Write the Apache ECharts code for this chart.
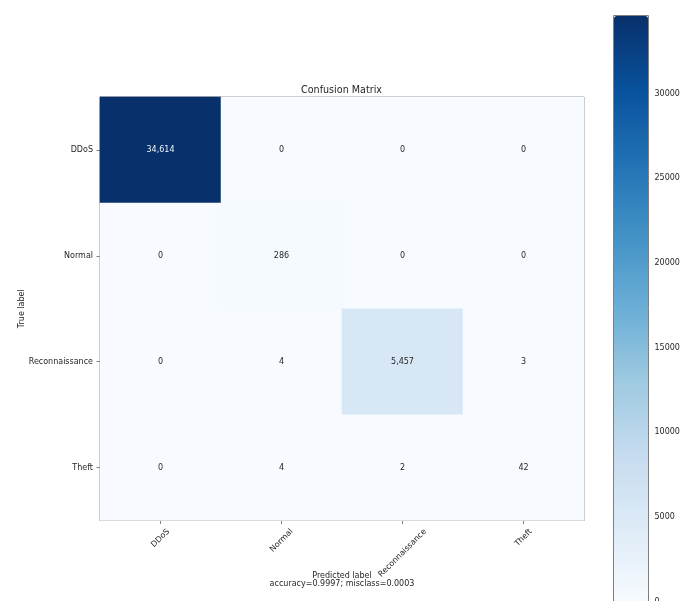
<!DOCTYPE html>
<html>
<head>
<meta charset="utf-8">
<script src="https://cdn.jsdelivr.net/npm/echarts@6/dist/echarts.min.js"></script>
<style>
  html, body { margin: 0; padding: 0; background: #ffffff; overflow: hidden; }
  #chart { width: 692px; height: 601px; }
</style>
</head>
<body>
<div id="chart"></div>
<script>
// Class labels (rows = true label, columns = predicted label)
const categories = ['DDoS', 'Normal', 'Reconnaissance', 'Theft'];

// Confusion-matrix counts, one array per true class
const rowDDoS = [34614, 0, 0, 0];
const rowNormal = [0, 286, 0, 0];
const rowReconnaissance = [0, 4, 5457, 3];
const rowTheft = [0, 4, 2, 42];

// Colour-bar tick values
const colorbarTicks = [0, 5000, 10000, 15000, 20000, 25000, 30000];

const titleText = 'Confusion Matrix';
const xAxisTitle = 'Predicted label';
const yAxisTitle = 'True label';
const summaryText = 'accuracy=0.9997; misclass=0.0003';

// matplotlib "Blues" colormap stops
const blues = ['#f7fbff', '#deebf7', '#c6dbef', '#9ecae1', '#6baed6',
               '#4292c6', '#2171b5', '#08519c', '#08306b'];

const FONT = '"DejaVu Sans", "Liberation Sans", sans-serif';
const TEXT = '#262626';
const SPINE = '#808080';

const rows = [rowDDoS, rowNormal, rowReconnaissance, rowTheft];
const maxValue = Math.max(...rows.flat());
const threshold = maxValue / 2;

const cells = [];
rows.forEach((row, r) => {
  row.forEach((v, c) => {
    cells.push({
      value: [c, r, v],
      label: { color: v > threshold ? '#eef3fb' : TEXT }
    });
  });
});

// Rotated x labels are centred on their tick (bounding box hangs below the axis);
// per-label padding shifts each rotated label straight down by half its extent.
const measure = document.createElement('canvas').getContext('2d');
measure.font = '8px ' + FONT;
const xRich = {};
categories.forEach((name, i) => {
  const w = measure.measureText(name).width;
  const p = (w + 8) / 2;
  xRich['c' + i] = { padding: [p, p, 0, 0], fontSize: 8, fontFamily: FONT, color: TEXT };
});

const chart = echarts.init(document.getElementById('chart'), null, { renderer: 'canvas' });

chart.setOption({
  backgroundColor: '#ffffff',
  animation: false,
  title: {
    text: titleText,
    left: 301,
    top: 85,
    padding: 0,
    textStyle: { fontFamily: FONT, fontSize: 9.6, fontWeight: 'normal', color: TEXT }
  },
  grid: [
    { left: 100, top: 97, width: 484, height: 423.5, outerBoundsMode: 'none', containLabel: false,
      show: true, borderColor: SPINE, borderWidth: 1, backgroundColor: 'transparent' },
    { left: 613.5, top: 15.5, width: 35, height: 586, outerBoundsMode: 'none', containLabel: false,
      show: true, borderColor: SPINE, borderWidth: 1, backgroundColor: 'transparent' }
  ],
  xAxis: [
    {
      type: 'category', gridIndex: 0, data: categories, position: 'bottom',
      name: xAxisTitle + '\n' + summaryText,
      nameLocation: 'middle', nameGap: 51.5, nameMoveOverlap: false,
      nameTextStyle: { fontFamily: FONT, fontSize: 8, color: TEXT, lineHeight: 8 },
      axisLine: { show: true, lineStyle: { color: SPINE, width: 1 } },
      axisTick: { show: true, alignWithLabel: true, length: 3.5, lineStyle: { color: SPINE } },
      axisLabel: {
        interval: 0, rotate: 45, margin: 7, align: 'center', verticalAlign: 'middle',
        hideOverlap: false,
        fontFamily: FONT, fontSize: 8, color: TEXT,
        formatter: (v, i) => '{c' + i + '|' + v + '}',
        rich: xRich
      },
      splitLine: { show: false }
    },
    {
      type: 'value', gridIndex: 1, show: false, min: 0, max: 1
    }
  ],
  yAxis: [
    {
      type: 'category', gridIndex: 0, data: categories, inverse: true,
      name: yAxisTitle, nameLocation: 'middle', nameGap: 74, nameMoveOverlap: false,
      nameTextStyle: { fontFamily: FONT, fontSize: 8, color: TEXT },
      axisLine: { show: true, lineStyle: { color: SPINE, width: 1 } },
      axisTick: { show: true, alignWithLabel: true, length: 3.5, lineStyle: { color: SPINE } },
      axisLabel: { interval: 0, margin: 7, fontFamily: FONT, fontSize: 8, color: TEXT },
      splitLine: { show: false }
    },
    {
      type: 'value', gridIndex: 1, position: 'right', min: 0, max: maxValue,
      axisLine: { show: false },
      axisTick: { show: true, length: 3.5, lineStyle: { color: SPINE }, customValues: colorbarTicks },
      axisLabel: {
        margin: 6, fontFamily: FONT, fontSize: 8, color: TEXT, customValues: colorbarTicks,
        formatter: v => String(v)
      },
      splitLine: { show: false }
    }
  ],
  visualMap: {
    type: 'continuous',
    seriesIndex: 0,
    min: 0,
    max: maxValue,
    calculable: false,
    orient: 'vertical',
    left: 614,
    top: 16,
    itemWidth: 34,
    itemHeight: 585,
    padding: 0,
    text: null,
    textStyle: { color: 'transparent' },
    inRange: { color: blues }
  },
  series: [
    {
      type: 'heatmap',
      xAxisIndex: 0,
      yAxisIndex: 0,
      data: cells,
      label: {
        show: true,
        fontFamily: FONT,
        fontSize: 8,
        formatter: p => p.value[2].toLocaleString('en-US')
      },
      itemStyle: { borderWidth: 0 },
      emphasis: { disabled: true }
    }
  ]
});
</script>
</body>
</html>
